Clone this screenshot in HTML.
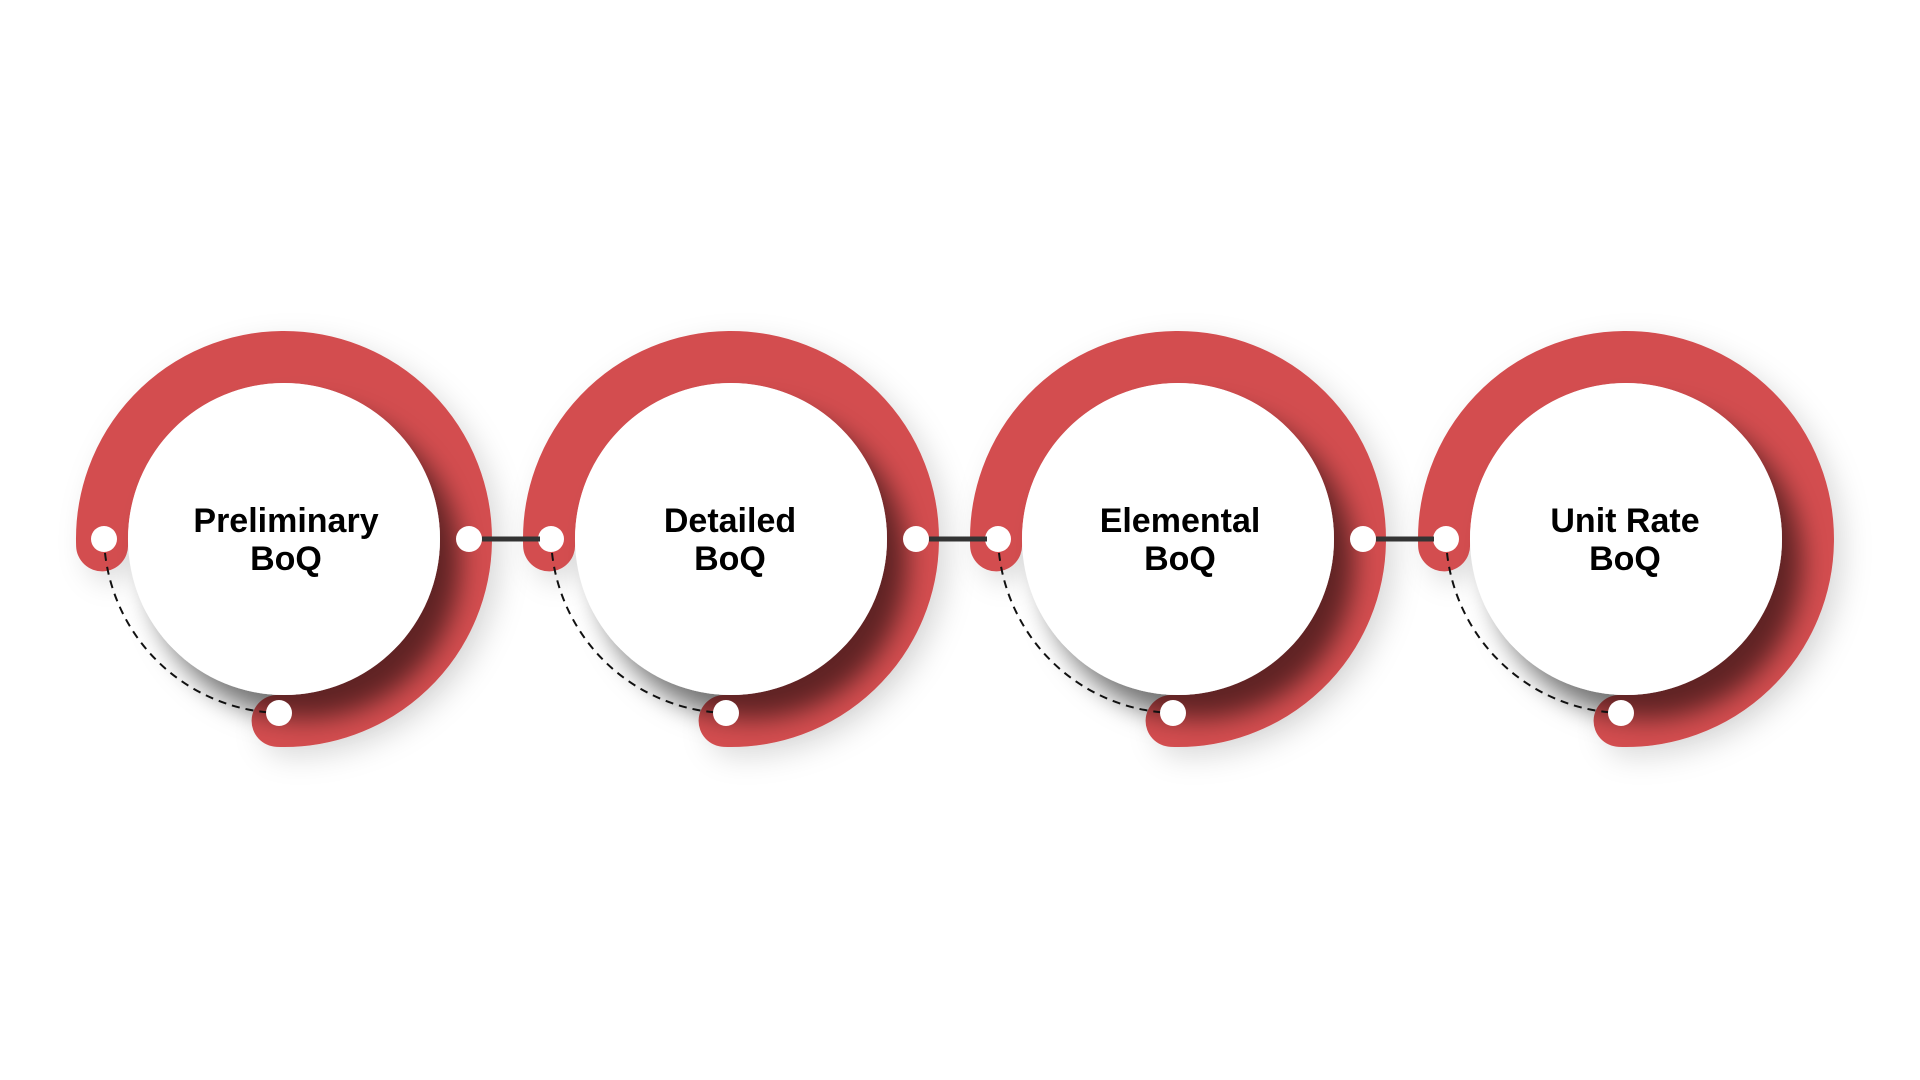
<!DOCTYPE html>
<html><head><meta charset="utf-8"><style>
html,body{margin:0;padding:0;background:#fff;width:1920px;height:1080px;overflow:hidden}
text{font-family:"Liberation Sans",sans-serif;font-weight:bold;font-size:34px;fill:#000}
</style></head><body>
<svg width="1920" height="1080" viewBox="0 0 1920 1080" xmlns="http://www.w3.org/2000/svg">
<defs>
<filter id="sh" x="-30%" y="-30%" width="160%" height="160%">
<feDropShadow dx="20" dy="24" stdDeviation="13" flood-color="#000" flood-opacity="0.55"/>
</filter>
<filter id="sh2" x="-30%" y="-30%" width="160%" height="160%">
<feDropShadow dx="10" dy="10" stdDeviation="14" flood-color="#000" flood-opacity="0.14"/>
</filter>
<g id="r">
<path d="M -181.9 6.4 A 182 182 0 1 1 -6.4 181.9" fill="none" stroke="#D34E50" stroke-width="52" stroke-linecap="round" filter="url(#sh2)"/>
<circle cx="0" cy="0" r="156" fill="#fff" filter="url(#sh)"/>
<path d="M -180 0 A 180 180 0 0 0 -5 174" fill="none" stroke="#111" stroke-width="2" stroke-dasharray="8 6"/>
<circle cx="-180" cy="0" r="13" fill="#fff"/>
<circle cx="-5" cy="174" r="13" fill="#fff"/>
</g>
</defs>
<use href="#r" x="284" y="539"/>
<use href="#r" x="731" y="539"/>
<use href="#r" x="1178" y="539"/>
<use href="#r" x="1626" y="539"/>
<g stroke="#333" stroke-width="5">
<line x1="482" y1="539" x2="540" y2="539"/>
<line x1="929" y1="539" x2="987" y2="539"/>
<line x1="1376" y1="539" x2="1434" y2="539"/>
</g>
<g fill="#fff">
<circle cx="469" cy="539" r="13"/>
<circle cx="916" cy="539" r="13"/>
<circle cx="1363" cy="539" r="13"/>
</g>
<g text-anchor="middle">
<text x="286" y="532">Preliminary</text><text x="286" y="570">BoQ</text>
<text x="730" y="532">Detailed</text><text x="730" y="570">BoQ</text>
<text x="1180" y="532">Elemental</text><text x="1180" y="570">BoQ</text>
<text x="1625" y="532">Unit Rate</text><text x="1625" y="570">BoQ</text>
</g>
</svg>
</body></html>
